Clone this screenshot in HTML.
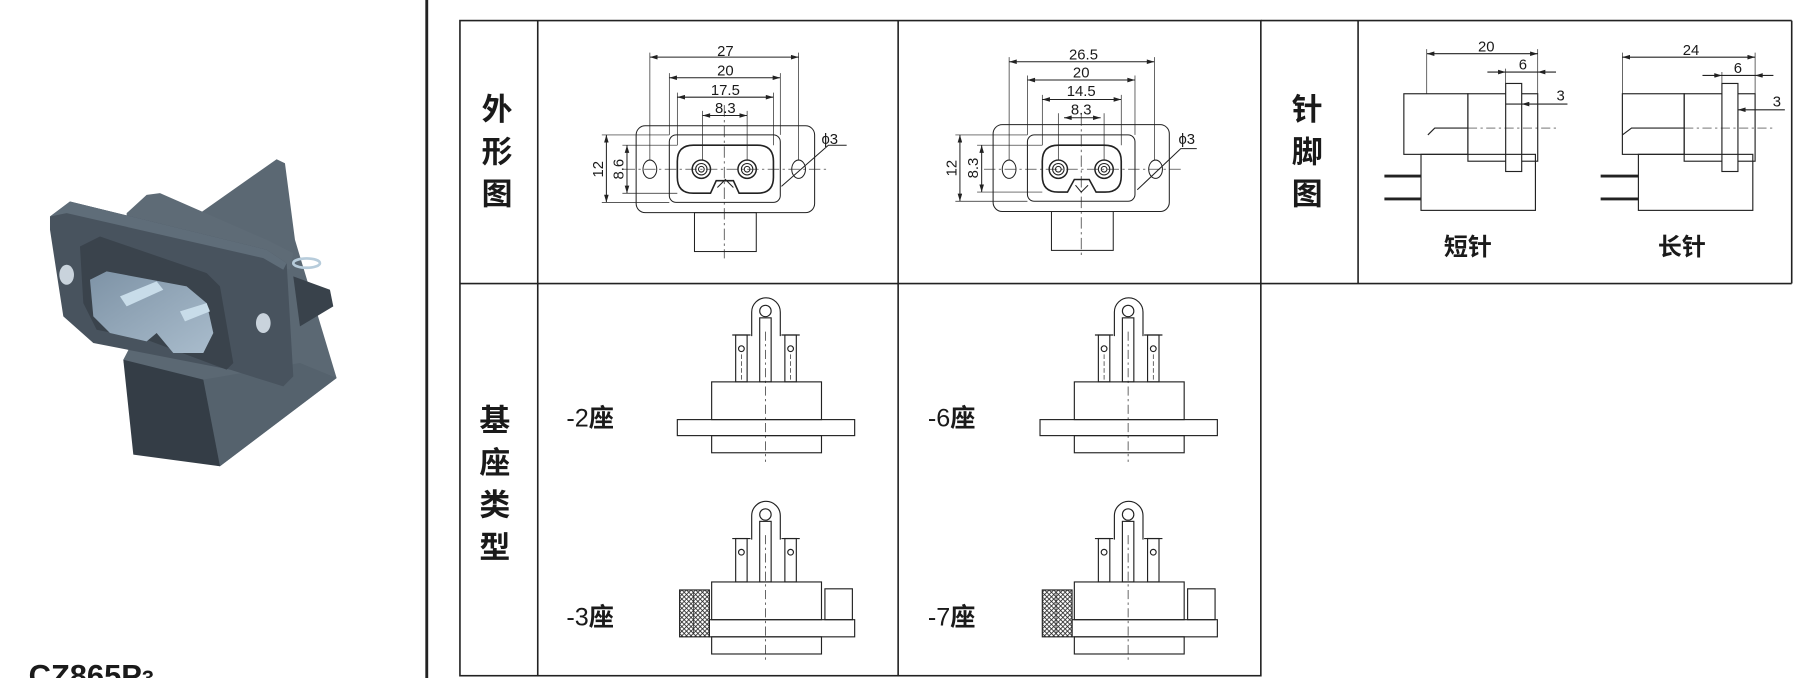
<!DOCTYPE html>
<html><head><meta charset="utf-8"><style>
html,body{margin:0;padding:0;background:#fff;}
svg{display:block;}
text{font-family:"Liberation Sans","Noto Sans CJK SC",sans-serif;fill:#1a1a1a;}
.cj{font-family:"Noto Sans CJK SC","WenQuanYi Zen Hei",sans-serif;font-weight:bold;}
.d{font-size:13px;}
</style></head><body>
<svg width="1794" height="678" viewBox="0 0 1568 593" preserveAspectRatio="none" xmlns="http://www.w3.org/2000/svg">
<defs>
<marker id="a" viewBox="0 0 10 6" refX="10" refY="3" markerWidth="8" markerHeight="4" orient="auto-start-reverse" markerUnits="userSpaceOnUse"><path d="M0,0 L10,3 L0,6z" fill="#222"/></marker>
<pattern id="kn" width="4" height="4" patternUnits="userSpaceOnUse"><path d="M0,0L4,4M4,0L0,4" stroke="#222" stroke-width="0.7"/></pattern>
<linearGradient id="op" x1="0" y1="0" x2="1" y2="1"><stop offset="0" stop-color="#7e93a6"/><stop offset="1" stop-color="#a9bccc"/></linearGradient>
</defs>
<rect width="1568" height="593" fill="#fff"/>

<!-- 3D object -->
<g transform="translate(0,113.6) scale(0.2913)">
<polygon points="600,250 830,88 855,100 885,330 1010,745 660,1010 420,960 370,690" fill="#5b6873"/>
<polygon points="610,750 900,700 1010,745 660,1010" fill="#55626d"/>
<polygon points="370,690 610,750 660,1010 400,975" fill="#343d46"/>
<polygon points="380,250 440,195 480,190 800,330 880,370 870,420 380,260" fill="#5e6b76"/>
<polygon points="880,440 990,480 1000,530 900,590" fill="#39424b"/>
<ellipse cx="920" cy="400" rx="40" ry="14" fill="none" stroke="#b7ccdb" stroke-width="8"/>
<path d="M150,260 L210,215 L800,360 L860,400 L880,740 L850,770 L690,720 L280,640 L190,560 L150,300Z" fill="#48535e"/>
<path d="M150,260 L210,215 L800,360 L860,400 L850,420 L790,385 L200,250Z" fill="#5f6d79"/>
<path d="M240,350 L300,320 L620,430 L660,470 L700,700 L680,720 L440,630 L290,600 L250,520Z" fill="#3a434c"/>
<path d="M270,450 L320,425 L560,470 L620,520 L640,610 L610,670 L520,670 L470,610 L440,635 L330,610 L280,560Z" fill="url(#op)"/>
<path d="M360,500 L470,455 L490,480 L380,530Z" fill="#c8dce9"/>
<path d="M540,545 L620,520 L630,545 L555,575Z" fill="#c8dce9"/>
<ellipse cx="200" cy="435" rx="22" ry="30" fill="#c9d3dc"/>
<ellipse cx="790" cy="580" rx="22" ry="30" fill="#c9d3dc"/>
</g>
<text x="25" y="600" font-size="27" font-weight="bold">CZ865P<tspan font-size="19">3</tspan></text>

<!-- thick separator -->
<line x1="373" y1="0" x2="373" y2="593" stroke="#222" stroke-width="2.5"/>

<!-- table -->
<g stroke="#222" stroke-width="1.4" fill="none">
<rect x="402" y="18" width="700" height="573"/>
<line x1="1102" y1="18" x2="1566" y2="18"/>
<line x1="1566" y1="18" x2="1566" y2="248"/>
<line x1="402" y1="248" x2="1566" y2="248"/>
<line x1="470" y1="18" x2="470" y2="591"/>
<line x1="785" y1="18" x2="785" y2="591"/>
<line x1="1187" y1="18" x2="1187" y2="248"/>
</g>
<g class="cj" font-size="27">
<text class="cj" x="421" y="105">外</text><text class="cj" x="421" y="142">形</text><text class="cj" x="421" y="179">图</text>
<text class="cj" x="1129" y="105">针</text><text class="cj" x="1129" y="142">脚</text><text class="cj" x="1129" y="179">图</text>
<text class="cj" x="419" y="377">基</text><text class="cj" x="419" y="414">座</text><text class="cj" x="419" y="451">类</text><text class="cj" x="419" y="488">型</text>
</g>

<!-- Outline drawing 1 -->
<g stroke="#222" stroke-width="0.9" fill="none">
<line x1="568" y1="50" x2="698" y2="50" marker-start="url(#a)" marker-end="url(#a)"/>
<line x1="585" y1="68" x2="682" y2="68" marker-start="url(#a)" marker-end="url(#a)"/>
<line x1="592" y1="85" x2="676" y2="85" marker-start="url(#a)" marker-end="url(#a)"/>
<line x1="614" y1="101" x2="653" y2="101" marker-start="url(#a)" marker-end="url(#a)"/>
<path d="M568,46V140M698,46V140M585,64V118M682,64V118M592,81V127M676,81V127M614,97V140M653,97V140" stroke-width="0.6"/>
<rect x="556" y="110" width="156" height="76" rx="8"/>
<rect x="585" y="118" width="97" height="59" rx="6"/>
<path d="M606,127 H662 Q676,127 676,141 V155 Q676,169 662,169 H646 L641,158 H626 L621,169 H606 Q592,169 592,155 V141 Q592,127 606,127Z" stroke-width="1.4"/>
<path d="M627,164 L634,157 L641,164" />
<ellipse cx="568" cy="148" rx="6" ry="8"/><ellipse cx="698" cy="148" rx="6" ry="8"/>
<circle cx="613" cy="148" r="8" stroke-width="1.3"/><circle cx="613" cy="148" r="5"/><circle cx="613" cy="148" r="2.5"/>
<circle cx="653" cy="148" r="8" stroke-width="1.3"/><circle cx="653" cy="148" r="5"/><circle cx="653" cy="148" r="2.5"/>
<rect x="607" y="186" width="54" height="34"/>
<line x1="633" y1="92" x2="633" y2="226" stroke-dasharray="10,3,2,3" stroke-width="0.6"/>
<line x1="545" y1="148" x2="722" y2="148" stroke-dasharray="10,3,2,3" stroke-width="0.6"/>
<line x1="530" y1="118" x2="530" y2="177" marker-start="url(#a)" marker-end="url(#a)"/>
<line x1="548" y1="127" x2="548" y2="169" marker-start="url(#a)" marker-end="url(#a)"/>
<path d="M526,118H585M526,177H585M544,127H592M544,169H592" stroke-width="0.6"/>
<path d="M683,163 L724,127 H740"/>
</g>
<g class="d"><text x="634" y="49" text-anchor="middle">27</text><text x="634" y="66" text-anchor="middle">20</text><text x="634" y="83" text-anchor="middle">17.5</text><text x="634" y="99" text-anchor="middle">8.3</text>
<text x="718" y="126">ϕ3</text>
<text transform="translate(527,148) rotate(-90)" text-anchor="middle">12</text><text transform="translate(545,148) rotate(-90)" text-anchor="middle">8.6</text></g>

<!-- Outline drawing 2 -->
<g stroke="#222" stroke-width="0.9" fill="none">
<line x1="882" y1="54" x2="1009" y2="54" marker-start="url(#a)" marker-end="url(#a)"/>
<line x1="898" y1="70" x2="992" y2="70" marker-start="url(#a)" marker-end="url(#a)"/>
<line x1="911" y1="87" x2="980" y2="87" marker-start="url(#a)" marker-end="url(#a)"/>
<line x1="930" y1="103" x2="962" y2="103" marker-start="url(#a)" marker-end="url(#a)"/>
<path d="M882,50V140M1009,50V140M898,66V118M992,66V118M911,83V127M980,83V127M925,99V140M965,99V140" stroke-width="0.6"/>
<rect x="868" y="109" width="154" height="76" rx="8"/>
<rect x="898" y="118" width="94" height="58" rx="6"/>
<path d="M925,127 H965 Q980,127 980,141 V154 Q980,168 966,168 H958 L952,157 H939 L933,168 H925 Q911,168 911,154 V141 Q911,127 925,127Z" stroke-width="1.4"/>
<path d="M940,162 L945,168 L951,162"/>
<ellipse cx="882" cy="148" rx="6" ry="8"/><ellipse cx="1010" cy="148" rx="6" ry="8"/>
<circle cx="925" cy="148" r="8" stroke-width="1.3"/><circle cx="925" cy="148" r="5"/><circle cx="925" cy="148" r="2.5"/>
<circle cx="965" cy="148" r="8" stroke-width="1.3"/><circle cx="965" cy="148" r="5"/><circle cx="965" cy="148" r="2.5"/>
<rect x="919" y="185" width="54" height="34"/>
<line x1="945" y1="100" x2="945" y2="225" stroke-dasharray="10,3,2,3" stroke-width="0.6"/>
<line x1="860" y1="148" x2="1032" y2="148" stroke-dasharray="10,3,2,3" stroke-width="0.6"/>
<line x1="839" y1="118" x2="839" y2="176" marker-start="url(#a)" marker-end="url(#a)"/>
<line x1="858" y1="127" x2="858" y2="168" marker-start="url(#a)" marker-end="url(#a)"/>
<path d="M835,118H898M835,176H898M854,127H911M854,168H911" stroke-width="0.6"/>
<path d="M994,166 L1032,130 H1046"/>
</g>
<g class="d"><text x="947" y="52" text-anchor="middle">26.5</text><text x="945" y="68" text-anchor="middle">20</text><text x="945" y="84" text-anchor="middle">14.5</text><text x="945" y="100" text-anchor="middle">8.3</text>
<text x="1030" y="126">ϕ3</text>
<text transform="translate(836,147) rotate(-90)" text-anchor="middle">12</text><text transform="translate(855,147) rotate(-90)" text-anchor="middle">8.3</text></g>

<!-- pin drawings -->
<g stroke="#222" stroke-width="1" fill="none">
<rect x="1227" y="82" width="56" height="53"/>
<rect x="1283" y="82" width="61" height="59"/>
<rect x="1316" y="73" width="14" height="77" fill="#fff"/>
<rect x="1242" y="135" width="100" height="49"/>
<path d="M1248,118 L1254,112 H1283"/>
<line x1="1283" y1="112" x2="1360" y2="112" stroke-dasharray="8,3,2,3" stroke-width="0.6"/>
<line x1="1210" y1="154" x2="1242" y2="154" stroke-width="2.5"/><line x1="1210" y1="174" x2="1242" y2="174" stroke-width="2.5"/>
<line x1="1247" y1="47" x2="1344" y2="47" marker-start="url(#a)" marker-end="url(#a)"/>
<line x1="1300" y1="63" x2="1316" y2="63" marker-end="url(#a)"/><line x1="1344" y1="63" x2="1360" y2="63" marker-start="url(#a)"/><line x1="1316" y1="63" x2="1344" y2="63"/>
<line x1="1316" y1="91" x2="1330" y2="91"/><line x1="1330" y1="91" x2="1370" y2="91" marker-start="url(#a)"/>
<path d="M1247,43V82M1344,43V82M1316,60V73" stroke-width="0.6"/>

<rect x="1418" y="82" width="54" height="53"/>
<rect x="1472" y="82" width="62" height="59"/>
<rect x="1505" y="73" width="14" height="77" fill="#fff"/>
<rect x="1432" y="135" width="100" height="49"/>
<path d="M1418,118 L1426,112 H1472"/>
<line x1="1472" y1="112" x2="1550" y2="112" stroke-dasharray="8,3,2,3" stroke-width="0.6"/>
<line x1="1399" y1="154" x2="1432" y2="154" stroke-width="2.5"/><line x1="1399" y1="174" x2="1432" y2="174" stroke-width="2.5"/>
<line x1="1418" y1="50" x2="1534" y2="50" marker-start="url(#a)" marker-end="url(#a)"/>
<line x1="1488" y1="66" x2="1505" y2="66" marker-end="url(#a)"/><line x1="1534" y1="66" x2="1550" y2="66" marker-start="url(#a)"/><line x1="1505" y1="66" x2="1534" y2="66"/>
<line x1="1519" y1="96" x2="1560" y2="96" marker-start="url(#a)"/>
<path d="M1418,46V82M1534,46V82M1505,63V73" stroke-width="0.6"/>
</g>
<g class="d"><text x="1299" y="45" text-anchor="middle">20</text><text x="1331" y="61" text-anchor="middle">6</text><text x="1364" y="88" text-anchor="middle">3</text>
<text x="1478" y="48" text-anchor="middle">24</text><text x="1519" y="64" text-anchor="middle">6</text><text x="1553" y="93" text-anchor="middle">3</text></g>
<text class="cj" x="1283" y="223" font-size="21" text-anchor="middle">短针</text>
<text class="cj" x="1470" y="223" font-size="21" text-anchor="middle">长针</text>

<!-- base type drawings -->
<g id="top2" stroke="#222" stroke-width="1" fill="none">
<path d="M657,294 V273 A12.5,12.5 0 0 1 682,273 V294"/>
<circle cx="669" cy="272" r="5"/>
<rect x="664" y="278" width="10" height="56" fill="#fff"/>
<rect x="643" y="293" width="10" height="41"/><rect x="686" y="293" width="10" height="41"/>
<path d="M640,293H656M683,293H699"/>
<circle cx="648" cy="305" r="2.5"/><circle cx="691" cy="305" r="2.5"/>
<line x1="648" y1="310" x2="648" y2="332" stroke-dasharray="4,2" stroke-width="0.6"/><line x1="691" y1="310" x2="691" y2="332" stroke-dasharray="4,2" stroke-width="0.6"/>
<rect x="622" y="334" width="96" height="33"/>
<rect x="592" y="367" width="155" height="14"/>
<rect x="622" y="381" width="96" height="15"/>
<line x1="669" y1="290" x2="669" y2="404" stroke-dasharray="8,3,2,3" stroke-width="0.6"/>
</g>
<use href="#top2" transform="translate(317,0)"/>
<g id="top3" stroke="#222" stroke-width="1" fill="none">
<path d="M657,472 V451 A12.5,12.5 0 0 1 682,451 V472"/>
<circle cx="669" cy="450" r="5"/>
<rect x="664" y="456" width="10" height="53" fill="#fff"/>
<rect x="643" y="471" width="10" height="38"/><rect x="686" y="471" width="10" height="38"/>
<path d="M640,471H656M683,471H699"/>
<circle cx="648" cy="483" r="2.5"/><circle cx="691" cy="483" r="2.5"/>
<rect x="622" y="509" width="96" height="33"/>
<rect x="620" y="542" width="127" height="15"/>
<rect x="622" y="557" width="96" height="15"/>
<rect x="594" y="516" width="26" height="41" fill="url(#kn)"/>
<line x1="606" y1="518" x2="606" y2="555" stroke-width="0.6"/>
<rect x="721" y="515" width="24" height="27"/>
<line x1="669" y1="468" x2="669" y2="580" stroke-dasharray="8,3,2,3" stroke-width="0.6"/>
</g>
<use href="#top3" transform="translate(317,0)"/>
<g font-size="22">
<text x="495" y="373">-2<tspan class="cj" font-weight="normal">座</tspan></text>
<text x="495" y="547">-3<tspan class="cj" font-weight="normal">座</tspan></text>
<text x="811" y="373">-6<tspan class="cj" font-weight="normal">座</tspan></text>
<text x="811" y="547">-7<tspan class="cj" font-weight="normal">座</tspan></text>
</g>
</svg>
</body></html>
